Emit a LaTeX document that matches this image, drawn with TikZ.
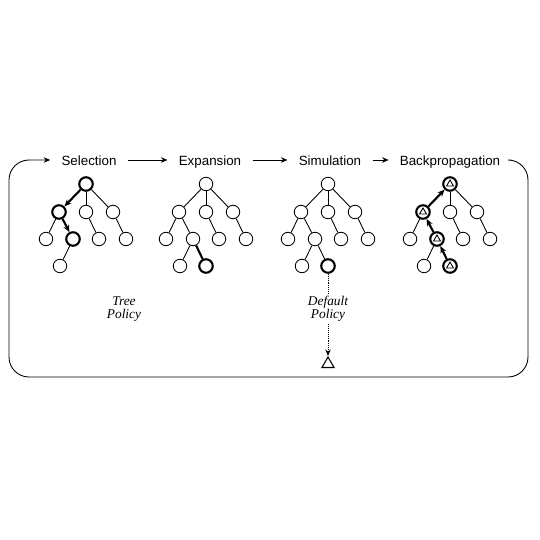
\documentclass[tikz,border=0pt]{standalone}
\usepackage{fontspec}
\setmainfont{Liberation Serif}
\setsansfont{Liberation Sans}
\usetikzlibrary{arrows.meta,shapes.geometric}

\begin{document}
\begin{tikzpicture}[
    x=0.02cm, y=-0.02cm,
    font=\sffamily\fontsize{7.6}{9}\selectfont,
    vertex/.style={circle, draw=black, line width=0.5pt, fill=white, minimum size=2.7mm, inner sep=0pt},
    chosen/.style={vertex, line width=1.2pt},
    reward/.style={regular polygon, regular polygon sides=3, draw=black, line width=0.5pt, minimum size=1.6mm, inner sep=0pt},
    result/.style={reward, minimum size=2.8mm, line width=0.6pt},
    phase/.style={inner xsep=2.2mm, inner ysep=0pt, text height=1.38ex, text depth=0pt},
    policy/.style={font=\rmfamily\itshape\fontsize{7.6}{7.3}\selectfont, align=center, fill=white, inner sep=1pt},
    edge/.style={line width=0.5pt},
    walk/.style={line width=1.2pt},
    climb/.style={walk, -{Stealth[length=1.4mm,width=1.2mm]}},
    flow/.style={-{Stealth[length=1.3mm,width=1.1mm]}, line width=0.5pt},
    rollout/.style={flow, dash pattern=on 0.5pt off 0.6pt}
]
    \useasboundingbox (0,0) rectangle (540,540);

    % --- PHASE LABELS ---
    \node[phase] (Sel) at (89,160) {Selection};
    \node[phase] (Exp) at (210,160) {Expansion};
    \node[phase] (Sim) at (330,160) {Simulation};
    \node[phase] (Back) at (450,160) {Backpropagation};

    % --- SELECTION TREE ---
    \node[chosen] (SelRoot) at (86,184) {};
    \node[chosen] (SelL) at (59,212) {};
    \node[vertex] (SelM) at (86,212) {};
    \node[vertex] (SelR) at (113,212) {};
    \node[vertex] (SelLL) at (46,239) {};
    \node[chosen] (SelLR) at (73,239) {};
    \node[vertex] (SelMR) at (99,239) {};
    \node[vertex] (SelRR) at (126,239) {};
    \node[vertex] (SelLRL) at (60,266) {};

    % --- EXPANSION TREE ---
    \node[vertex] (ExpRoot) at (206,184) {};
    \node[vertex] (ExpL) at (179,212) {};
    \node[vertex] (ExpM) at (206,212) {};
    \node[vertex] (ExpR) at (233,212) {};
    \node[vertex] (ExpLL) at (166,239) {};
    \node[vertex] (ExpLR) at (193,239) {};
    \node[vertex] (ExpMR) at (219,239) {};
    \node[vertex] (ExpRR) at (246,239) {};
    \node[vertex] (ExpLRL) at (180,266) {};
    \node[chosen] (ExpLRR) at (206,266) {};

    % --- SIMULATION TREE ---
    \node[vertex] (SimRoot) at (328,184) {};
    \node[vertex] (SimL) at (301,212) {};
    \node[vertex] (SimM) at (328,212) {};
    \node[vertex] (SimR) at (355,212) {};
    \node[vertex] (SimLL) at (288,239) {};
    \node[vertex] (SimLR) at (315,239) {};
    \node[vertex] (SimMR) at (341,239) {};
    \node[vertex] (SimRR) at (368,239) {};
    \node[vertex] (SimLRL) at (302,266) {};
    \node[chosen] (SimLRR) at (328,266) {};
    \node[result] (SimOut) at (328,364) {};

    % --- BACKPROPAGATION TREE ---
    \node[chosen] (BackRoot) at (450,184) {};
    \node[chosen] (BackL) at (423,212) {};
    \node[vertex] (BackM) at (450,212) {};
    \node[vertex] (BackR) at (477,212) {};
    \node[vertex] (BackLL) at (410,239) {};
    \node[chosen] (BackLR) at (437,239) {};
    \node[vertex] (BackMR) at (463,239) {};
    \node[vertex] (BackRR) at (490,239) {};
    \node[vertex] (BackLRL) at (424,266) {};
    \node[chosen] (BackLRR) at (450,266) {};
    \node[reward] (BackRootVal) at (BackRoot) {};
    \node[reward] (BackLVal) at (BackL) {};
    \node[reward] (BackLRVal) at (BackLR) {};
    \node[reward] (BackLRRVal) at (BackLRR) {};

    % ================= DRAWING EDGES =================

    % Phase cycle
    \draw[flow] (Sel) -- (Exp);
    \draw[flow] (Exp) -- (Sim);
    \draw[flow] (Sim) -- (Back);
    \draw[flow, rounded corners=4mm] (Back.east) -- (528,160) -- (528,377) -- (9,377) -- (9,160) -- (Sel.west);

    % Selection
    \draw[climb] (SelRoot) -- (SelL);
    \draw[climb] (SelL) -- (SelLR);
    \draw[edge] (SelRoot) -- (SelM);
    \draw[edge] (SelRoot) -- (SelR);
    \draw[edge] (SelL) -- (SelLL);
    \draw[edge] (SelM) -- (SelMR);
    \draw[edge] (SelR) -- (SelRR);
    \draw[edge] (SelLR) -- (SelLRL);
    \node[policy] (TreePolicy) at (124,309) {Tree\\Policy};

    % Expansion
    \draw[edge] (ExpRoot) -- (ExpL);
    \draw[edge] (ExpRoot) -- (ExpM);
    \draw[edge] (ExpRoot) -- (ExpR);
    \draw[edge] (ExpL) -- (ExpLL);
    \draw[edge] (ExpL) -- (ExpLR);
    \draw[edge] (ExpM) -- (ExpMR);
    \draw[edge] (ExpR) -- (ExpRR);
    \draw[edge] (ExpLR) -- (ExpLRL);
    \draw[walk] (ExpLR) -- (ExpLRR);

    % Simulation
    \draw[edge] (SimRoot) -- (SimL);
    \draw[edge] (SimRoot) -- (SimM);
    \draw[edge] (SimRoot) -- (SimR);
    \draw[edge] (SimL) -- (SimLL);
    \draw[edge] (SimL) -- (SimLR);
    \draw[edge] (SimM) -- (SimMR);
    \draw[edge] (SimR) -- (SimRR);
    \draw[edge] (SimLR) -- (SimLRL);
    \draw[edge] (SimLR) -- (SimLRR);
    \draw[rollout] (SimLRR) -- node[policy, pos=0.43] {Default\\Policy} (SimOut);

    % Backpropagation
    \draw[climb] (BackLRR) -- (BackLR);
    \draw[climb] (BackLR) -- (BackL);
    \draw[climb] (BackL) -- (BackRoot);
    \draw[edge] (BackRoot) -- (BackM);
    \draw[edge] (BackRoot) -- (BackR);
    \draw[edge] (BackL) -- (BackLL);
    \draw[edge] (BackM) -- (BackMR);
    \draw[edge] (BackR) -- (BackRR);
    \draw[edge] (BackLR) -- (BackLRL);

\end{tikzpicture}
\end{document}
